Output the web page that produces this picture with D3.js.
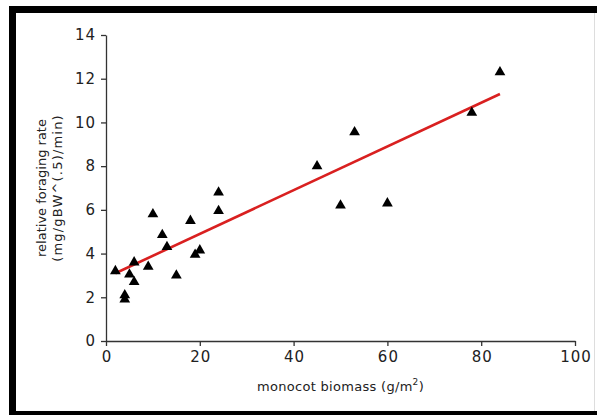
<!DOCTYPE html>
<html><head><meta charset="utf-8">
<script src="https://cdn.jsdelivr.net/npm/d3@7"></script>
<style>
html,body{margin:0;padding:0;background:#fff;}
svg{display:block;}
text{font-family:"DejaVu Sans",Verdana,sans-serif;fill:#222;}
</style></head>
<body>
<svg id="chart" width="597" height="415"></svg>
<script>
const biomass = [2,4,4,5,6,6,9,10,12,13,15,18,19,20,24,24,45,50,53,60,78,84];
const foragingRate = [3.2,2.1,1.9,3.05,3.6,2.7,3.4,5.8,4.85,4.3,3.0,5.5,3.95,4.15,6.8,5.95,8.0,6.2,9.55,6.3,10.45,12.3];
const xTicks = [0,20,40,60,80,100];
const yTicks = [0,2,4,6,8,10,12,14];
const trendIntercept = 2.9;
const trendSlope = 0.1;
const trendRange = [2,84];

const svg = d3.select("#chart");
// frame
svg.append("rect").attr("x",9).attr("y",6).attr("width",588).attr("height",7).attr("fill","#000");
svg.append("rect").attr("x",9).attr("y",6).attr("width",7).attr("height",409).attr("fill","#000");
svg.append("rect").attr("x",9).attr("y",411).attr("width",588).attr("height",4).attr("fill","#000");
svg.append("line").attr("x1",594.5).attr("x2",594.5).attr("y1",13).attr("y2",411).attr("stroke","#ddd");

const x = d3.scaleLinear().domain([0,100]).range([106,575]);
const y = d3.scaleLinear().domain([0,14]).range([341,35]);

const xAxis = svg.append("g").attr("transform","translate(0,341)")
  .call(d3.axisBottom(x).tickValues(xTicks).tickSize(5).tickSizeOuter(0).tickPadding(5));
const yAxis = svg.append("g").attr("transform","translate(106,0)")
  .call(d3.axisLeft(y).tickValues(yTicks).tickSize(5).tickSizeOuter(0).tickPadding(5));
[xAxis,yAxis].forEach(g=>{
  g.select(".domain").attr("stroke","#333").attr("stroke-width",1.3);
  g.selectAll(".tick line").attr("stroke","#333").attr("stroke-width",1.3);
  g.selectAll(".tick text").attr("font-size",15).attr("fill","#333")
    .style("letter-spacing","1px")
    .style("font-family","'DejaVu Sans',Verdana,sans-serif");
});
xAxis.selectAll(".tick text").attr("dx","0.5px");

// trendline
svg.append("line")
  .attr("x1",x(trendRange[0])).attr("y1",y(trendIntercept+trendSlope*trendRange[0]))
  .attr("x2",x(trendRange[1])).attr("y2",y(trendIntercept+trendSlope*trendRange[1]))
  .attr("stroke","#d92020").attr("stroke-width",2.6);

const tri = d3.symbol().type(d3.symbolTriangle).size(50);
svg.append("g").selectAll("path").data(biomass.map((b,i)=>[b,foragingRate[i]]))
  .join("path").attr("d",tri)
  .attr("transform",d=>`translate(${x(d[0])},${y(d[1])})`)
  .attr("fill","#000");

const xt = svg.append("text").attr("x",x(50)).attr("y",391).attr("text-anchor","middle")
  .attr("font-size",13).style("letter-spacing","0.3px");
xt.append("tspan").text("monocot biomass (g/m");
xt.append("tspan").attr("dy",-6).attr("font-size",9).text("2");
xt.append("tspan").attr("dy",6).text(")");

const yt = svg.append("text").attr("transform",`translate(46,${y(7)}) rotate(-90)`)
  .attr("text-anchor","middle").attr("font-size",13);
yt.append("tspan").attr("x",0).attr("dy",0).text("relative foraging rate");
yt.append("tspan").attr("x",0).attr("dy",16).style("letter-spacing","1.2px").text("(mg/gBW^(.5)/min)");
</script>
</body></html>
